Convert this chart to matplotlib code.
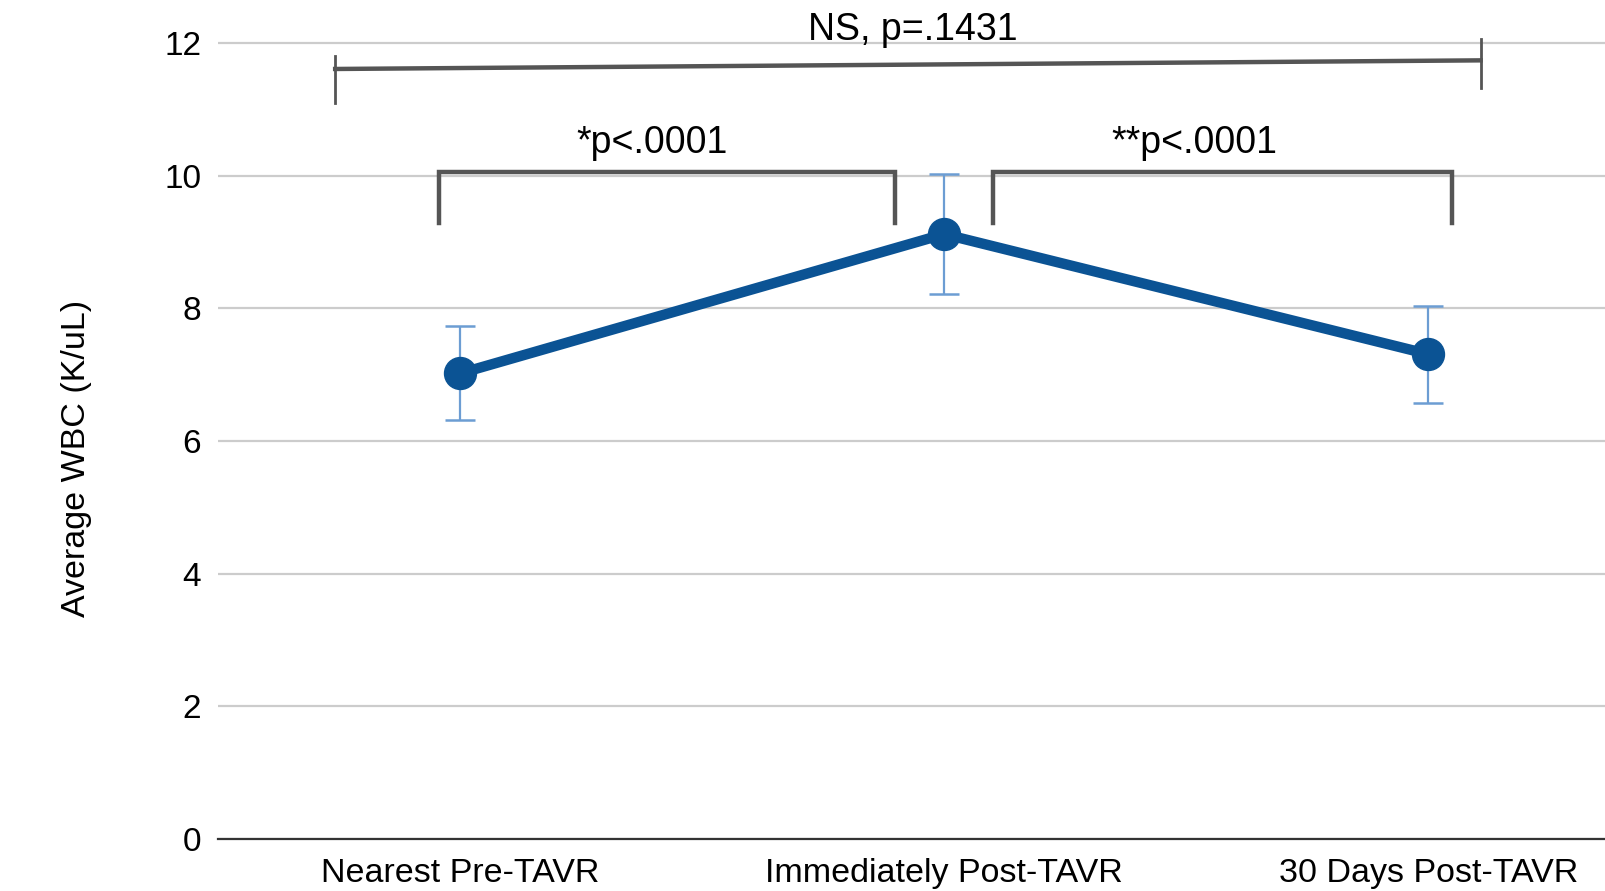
import matplotlib.pyplot as plt
import numpy as np

plt.rcParams['font.family'] = ['Liberation Sans', 'DejaVu Sans']

categories = ['Nearest Pre-TAVR', 'Immediately Post-TAVR', '30 Days Post-TAVR']
mean_wbc = [7.02, 9.12, 7.31]
err_wbc = [0.71, 0.91, 0.73]
yticks = [0, 2, 4, 6, 8, 10, 12]

# significance brackets: (left x, right x, top y, drop, label, label x)
brackets = [
    (-0.044, 0.898, 10.06, 0.77, '*p<.0001', 0.397),
    (1.100, 2.049, 10.06, 0.77, '**p<.0001', 1.516),
]

LINE = '#0b5394'
ERR = '#6c9dd3'
BRK = '#555555'

fig = plt.figure(figsize=(16.05, 8.91), dpi=100)
ax = fig.add_axes([218 / 1605, 52 / 891, 1 - 218 / 1605, 839 / 891])

x = np.arange(len(categories))
ax.errorbar(x, mean_wbc, yerr=err_wbc, fmt='none', ecolor=ERR, elinewidth=1.6,
            capsize=11, capthick=1.8, zorder=3)
ax.plot(x, mean_wbc, '-o', color=LINE, lw=7.5, ms=23, zorder=4)

ax.set_xlim(-0.5, 2.365)
ax.set_ylim(0, 12.65)
ax.set_yticks(yticks)
ax.set_xticks(x)
ax.set_xticklabels(categories, fontsize=24.5)
ax.tick_params(axis='y', labelsize=24, length=0, pad=12)
ax.tick_params(axis='x', length=0, pad=14)
ax.grid(axis='y', color='#cccccc', lw=1.6)
ax.set_axisbelow(True)
for s in ['left', 'top', 'right']:
    ax.spines[s].set_visible(False)
ax.spines['bottom'].set_color('#333333')
ax.spines['bottom'].set_linewidth(1.6)
ax.spines['bottom'].set_zorder(2)

ax.set_ylabel('Average WBC (K/uL)', fontsize=24.5)
ax.yaxis.set_label_coords(-0.091, 0.453)

# overall bracket (slightly slanted, as in the original)
ax.plot([-0.258, 2.108], [11.61, 11.74], color=BRK, lw=3.2, clip_on=False, zorder=5)
ax.plot([-0.258, -0.258], [11.09, 11.80], color=BRK, lw=2, clip_on=False, zorder=5)
ax.plot([2.108, 2.108], [11.32, 12.06], color=BRK, lw=2, clip_on=False, zorder=5)
ax.text(0.936, 12.2, 'NS, p=.1431', fontsize=27, ha='center', va='center', zorder=6)

for x0, x1, top, drop, label, lx in brackets:
    ax.plot([x0, x0, x1, x1], [top - drop, top, top, top - drop], color=BRK, lw=3.2,
            solid_joinstyle='miter', zorder=5)
    ax.text(lx, top + 0.43, label, fontsize=27, ha='center', va='center', zorder=6)

fig.savefig('out.png', dpi=100)
